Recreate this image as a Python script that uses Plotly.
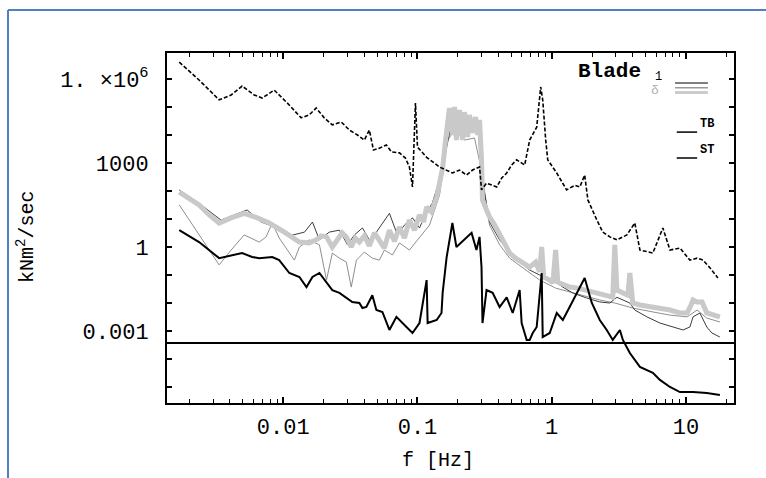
import plotly.graph_objects as go

# ---------------- data ----------------
# TB (dashed black)
tb_f = [0.00168, 0.00236, 0.00333, 0.00409, 0.00494, 0.00608, 0.00697, 0.00857, 0.0107, 0.0136,
        0.0156, 0.0176, 0.0202, 0.0232, 0.0271, 0.0311, 0.0357, 0.0402, 0.0438, 0.0470,
        0.0520, 0.0587, 0.0640, 0.0734, 0.0813, 0.0871, 0.0918, 0.0966, 0.100, 0.117,
        0.146, 0.182, 0.206, 0.232, 0.257, 0.290, 0.300, 0.327, 0.389, 0.424,
        0.462, 0.503, 0.548, 0.629, 0.685, 0.773, 0.828, 0.857, 0.902, 0.934,
        1.09, 1.29, 1.49, 1.62, 1.76, 1.86, 2.17, 2.40, 2.71, 3.06,
        3.63, 4.16, 4.54, 5.67, 6.73, 7.60, 9.02, 10.7, 12.1, 13.4, 15.1, 17.3]
tb_v = [4.0e6, 9.2e5, 1.8e5, 2.7e5, 5.6e5, 2.7e5, 2.1e5, 4.0e5, 1.4e5, 4.1e4,
        5.2e4, 9.2e4, 4.1e4, 2.3e4, 2.9e4, 1.5e4, 1.0e4, 6.6e3, 1.5e4, 2.9e3,
        3.4e3, 4.4e3, 2.5e3, 2.3e3, 1.5e3, 720, 140, 1.4e5, 3.7e3, 1.6e3,
        720, 440, 560, 370, 560, 720, 110, 190, 140, 290,
        440, 850, 1.3e3, 850, 6.6e3, 1.9e4, 5.2e5, 1.8e5, 6.6e3, 1.3e3,
        440, 110, 160, 140, 370, 48, 9.2, 3.4, 2.3, 1.8,
        2.7, 7.2, 0.78, 0.61, 4.8, 0.78, 0.92, 0.34, 0.40, 0.34, 0.18, 0.078]

# Blade 1, light component (thick light grey)
b_light_f = [0.00168, 0.00199, 0.00236, 0.00281, 0.00333, 0.00409, 0.00512, 0.00640, 0.00787, 0.0102,
             0.0132, 0.0156, 0.0176, 0.0192, 0.0210, 0.0232, 0.0253, 0.0275, 0.0295, 0.0321,
             0.0344, 0.0369, 0.0402, 0.0438, 0.0478, 0.0520, 0.0567, 0.0618, 0.0673, 0.0734,
             0.0800, 0.0871, 0.0950, 0.1035, 0.111, 0.117, 0.127, 0.139, 0.146, 0.154,
             0.162, 0.168, 0.173, 0.182, 0.189, 0.195, 0.206, 0.217, 0.224, 0.236,
             0.244, 0.257, 0.271, 0.281, 0.290, 0.300, 0.305, 0.327, 0.344, 0.376,
             0.409, 0.446, 0.486, 0.538, 0.608, 0.685, 0.760, 0.813, 0.842, 0.871,
             0.966, 1.02, 1.07, 1.11, 1.25, 1.36, 1.56, 1.82, 2.28, 2.62,
             2.85, 2.95, 3.06, 3.33, 3.69, 3.82, 4.02, 4.54, 5.67, 6.62,
             7.60, 9.02, 10.2, 10.9, 11.3, 12.1, 13.2, 14.3, 15.9, 17.9]
b_light_v = [92, 56, 32, 14, 7.2, 11, 16, 11, 7.2, 3.4,
             1.5, 1.4, 1.8, 2.5, 2.3, 1.0, 1.8, 3.2, 2.3, 1.0,
             2.1, 1.5, 2.5, 1.1, 3.2, 1.8, 0.92, 4.0, 1.6, 5.2,
             2.1, 9.2, 4.0, 14, 7.8, 27, 18, 61, 250, 660,
             6.6e3, 2.9e4, 9.2e4, 1.0e4, 1.0e5, 6.6e3, 7.8e4, 6.6e3, 6.6e4, 8.5e3,
             5.2e4, 1.2e4, 4.4e4, 1.0e4, 3.5e4, 1.3e3, 48, 21, 12, 6.1,
             2.7, 1.2, 0.61, 0.40, 0.27, 0.19, 0.29, 0.13, 1.0, 0.085,
             0.066, 0.052, 0.78, 0.056, 0.044, 0.037, 0.034, 0.029, 0.023, 0.018,
             0.016, 1.2, 0.029, 0.025, 0.019, 0.118, 0.010, 0.0085, 0.0072, 0.0066,
             0.0056, 0.0044, 0.0044, 0.0085, 0.0128, 0.0109, 0.0109, 0.0044, 0.0037, 0.0032]

# Blade 1, middle component (thin medium grey)
b_mid_f = [0.00168, 0.00236, 0.00333, 0.00409, 0.00512, 0.00662, 0.00746, 0.00828, 0.00933, 0.0121,
           0.0132, 0.0156, 0.0186, 0.0210, 0.0232, 0.0262, 0.0295, 0.0321, 0.0351, 0.0402,
           0.0461, 0.0520, 0.0567, 0.0651, 0.0734, 0.0871, 0.1035, 0.123, 0.146, 0.168,
           0.189, 0.224, 0.266, 0.300, 0.344, 0.409, 0.486, 0.608, 0.813, 1.07,
           1.36, 1.82, 2.28, 2.95, 4.02, 5.67, 7.60, 10.2, 12.1, 14.3, 17.9]
b_mid_v = [32, 2.7, 0.23, 0.78, 2.7, 1.5, 2.3, 7.2, 2.1, 0.34,
           1.0, 1.8, 1.2, 0.066, 0.61, 0.40, 0.29, 0.037, 0.34, 0.66,
           0.40, 0.34, 0.78, 0.52, 1.4, 0.78, 2.1, 6.1, 72, 6.6e3,
           1.5e4, 6.6e3, 7.8e3, 560, 6.1, 1.2, 0.40, 0.178, 0.066, 0.034,
           0.025, 0.018, 0.0128, 0.010, 0.0066, 0.0048, 0.0037, 0.0032, 0.0056, 0.0029, 0.0021]

# Blade 1, dark component (thin dark grey)
b_dark_f = [0.00168, 0.00236, 0.00295, 0.00344, 0.00431, 0.00538, 0.00685, 0.00828, 0.0111, 0.0144,
            0.0165, 0.0186, 0.0220, 0.0262, 0.0301, 0.0339, 0.0389, 0.0438, 0.0494, 0.0548,
            0.0618, 0.0709, 0.0800, 0.0918, 0.1035, 0.117, 0.129, 0.146, 0.162, 0.179,
            0.206, 0.244, 0.281, 0.300, 0.344, 0.409, 0.486, 0.577, 0.685, 0.813,
            1.02, 1.21, 1.43, 1.82, 2.28, 2.71, 3.06, 3.39, 3.82, 4.16,
            5.12, 6.40, 8.00, 9.50, 10.7, 11.3, 12.7, 14.3, 15.6, 17.9]
b_dark_v = [109, 37, 16, 9.2, 14, 21, 7.8, 5.6, 2.5, 3.4,
            7.8, 1.8, 3.4, 4.0, 1.2, 2.7, 4.8, 1.8, 3.4, 7.2,
            16, 2.7, 6.1, 11, 4.8, 18, 37, 250, 2.9e3, 2.3e4,
            3.4e4, 1.5e4, 2.3e4, 370, 7.8, 1.8, 0.66, 0.29, 0.151, 0.10,
            0.066, 0.037, 0.023, 0.0151, 0.0109, 0.010, 0.016, 0.0128, 0.010, 0.0056,
            0.0032, 0.00193, 0.00139, 0.00109, 0.00139, 0.0032, 0.0044, 0.00139, 8.5e-4, 6.1e-4]

# ST (solid black)
st_f = [0.00168, 0.00236, 0.00333, 0.00363, 0.00494, 0.00587, 0.00662, 0.00828, 0.00933, 0.0111,
        0.0132, 0.0149, 0.0165, 0.0186, 0.0210, 0.0232, 0.0262, 0.0295, 0.0327, 0.0369,
        0.0389, 0.0416, 0.0461, 0.0494, 0.0548, 0.0618, 0.0697, 0.0828, 0.0918, 0.1035,
        0.117, 0.119, 0.139, 0.151, 0.154, 0.165, 0.173, 0.182, 0.195, 0.232,
        0.253, 0.275, 0.290, 0.300, 0.305, 0.327, 0.363, 0.409, 0.462, 0.512,
        0.577, 0.597, 0.651, 0.685, 0.722, 0.773, 0.842, 0.857, 0.966, 1.09,
        1.21, 1.36, 1.54, 1.70, 1.76, 1.99, 2.28, 2.57, 2.85, 3.22,
        3.39, 3.82, 4.54, 5.67, 6.40, 7.60, 9.02, 11.3, 14.3, 17.9]
st_v = [4.0, 1.5, 0.40, 0.44, 0.61, 0.44, 0.40, 0.44, 0.34, 0.118,
        0.085, 0.037, 0.085, 0.118, 0.052, 0.029, 0.023, 0.016, 0.0109, 0.010,
        0.0066, 0.0072, 0.019, 0.0056, 0.0048, 0.00109, 0.0032, 0.00139, 8.5e-4, 0.00193,
        0.066, 0.00193, 0.00247, 0.0044, 0.023, 0.44, 1.8, 7.2, 1.0, 2.3,
        3.2, 0.78, 2.3, 0.19, 0.00193, 0.029, 0.023, 0.0072, 0.016, 0.0044,
        0.029, 0.00193, 4.8e-4, 4.8e-4, 8.5e-4, 0.00139, 0.118, 6.1e-4, 8.5e-4, 0.0044,
        0.00247, 0.0072, 0.023, 0.052, 0.078, 0.010, 0.00247, 0.00109, 4.8e-4, 0.00109,
        4.8e-4, 1.64e-4, 5.2e-5, 3.2e-5, 1.8e-5, 1.0e-5, 6.6e-6, 6.6e-6, 6.1e-6, 5.2e-6]

threshold = 3.7e-4

y_tick_vals = [1e-5, 1e-4, 1e-3, 1e-2, 1e-1, 1, 10, 100, 1e3, 1e4, 1e5, 1e6]
y_tick_text = ["", "", "0.001", "", "", "1", "", "", "1000", "", "", "1. \u00d710<sup>6</sup>"]
x_tick_vals = [0.01, 0.1, 1, 10]
x_tick_text = ["0.01", "0.1", "1", "10"]
x_minor_vals = [m * d for d in (0.001, 0.01, 0.1, 1, 10) for m in range(2, 10) if m * d < 22]

FONT = "Liberation Mono"

fig = go.Figure()
fig.add_trace(go.Scatter(x=b_mid_f, y=b_mid_v, mode="lines", line=dict(color="#8e8e8e", width=1)))
fig.add_trace(go.Scatter(x=b_dark_f, y=b_dark_v, mode="lines", line=dict(color="#3c3c3c", width=1)))
fig.add_trace(go.Scatter(x=b_light_f, y=b_light_v, mode="lines", line=dict(color="#c9c9c9", width=5)))
fig.add_trace(go.Scatter(x=st_f, y=st_v, mode="lines", line=dict(color="black", width=2)))
fig.add_trace(go.Scatter(x=tb_f, y=tb_v, mode="lines", line=dict(color="black", width=1.6, dash="4px,2px")))
fig.add_hline(y=threshold, line=dict(color="black", width=2))

fig.update_xaxes(type="log", range=[-2.866, 1.358], showgrid=False, zeroline=False,
                 showline=True, linecolor="black", linewidth=2, mirror="allticks",
                 ticks="inside", ticklen=6, tickcolor="black", tickwidth=1.5,
                 tickvals=x_tick_vals, ticktext=x_tick_text, ticklabelstandoff=3,
                 tickfont=dict(family=FONT, size=22, color="black"),
                 minor=dict(tickvals=x_minor_vals, ticks="inside", ticklen=4, tickcolor="black", tickwidth=1.2))
fig.update_yaxes(type="log", range=[-5.571, 6.929], showgrid=False, zeroline=False,
                 showline=True, linecolor="black", linewidth=2, mirror="allticks",
                 ticks="inside", ticklen=5, tickcolor="black", tickwidth=1.5,
                 tickvals=y_tick_vals, ticktext=y_tick_text, ticklabelstandoff=12,
                 tickfont=dict(family=FONT, size=22, color="black"))

def note(text, x, y, size, color="black", angle=0):
    fig.add_annotation(text=text, xref="paper", yref="paper", x=x, y=y, xanchor="center",
                       yanchor="middle", textangle=angle, showarrow=False,
                       font=dict(family=FONT, size=size, color=color))

# axis titles
note("f [Hz]", 0.478, -0.163, 20)
note("kNm<sup>2</sup>/sec", -0.249, 0.474, 20, angle=-90)

# legend drawn inside the frame
note("<b>Blade</b>", 0.780, 0.946, 21)
note("1", 0.866, 0.930, 12)
note("\u03b4", 0.861, 0.893, 13, color="#b0b0b0")
for yy, col, w in [(0.914, "#555555", 1.5), (0.901, "#999999", 1.5), (0.887, "#cccccc", 3)]:
    fig.add_shape(type="line", xref="paper", yref="paper", x0=0.896, x1=0.954, y0=yy, y1=yy,
                  line=dict(color=col, width=w))
for yy, label in [(0.774, "TB"), (0.700, "ST")]:
    fig.add_shape(type="line", xref="paper", yref="paper", x0=0.899, x1=0.935, y0=yy, y1=yy,
                  line=dict(color="black", width=1.5))
    note("<b>" + label + "</b>", 0.953, yy + 0.022, 12)

# outer blue frame (top and left edges)
fig.add_shape(type="line", xref="paper", yref="paper", x0=-0.2804, x1=1.06, y0=1.123, y1=1.123,
              line=dict(color="#4f81bd", width=2))
fig.add_shape(type="line", xref="paper", yref="paper", x0=-0.2804, x1=-0.2804, y0=1.123, y1=-0.22,
              line=dict(color="#4f81bd", width=2))

fig.update_layout(width=766, height=478, margin=dict(l=167, r=32, t=53, b=75),
                  paper_bgcolor="white", plot_bgcolor="white", showlegend=False)

fig.write_html("out.html")
